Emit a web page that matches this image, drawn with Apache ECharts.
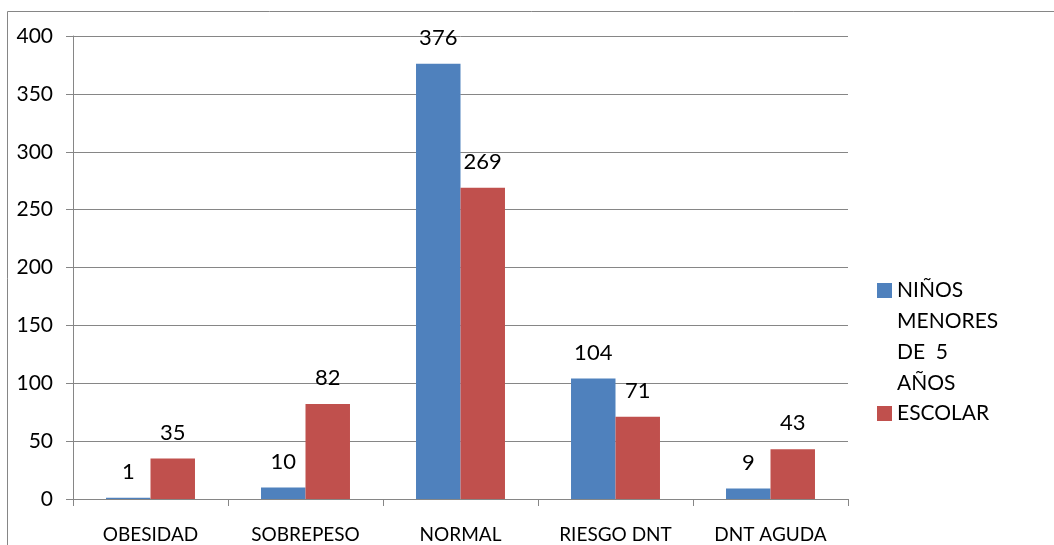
<!DOCTYPE html>
<html>
<head>
<meta charset="utf-8">
<script src="https://cdn.jsdelivr.net/npm/echarts@6/dist/echarts.min.js"></script>
<style>html,body{margin:0;padding:0;background:#fff}#c{width:1054px;height:545px}</style>
</head>
<body>
<div id="c"></div>
<script>
const categories = ['OBESIDAD', 'SOBREPESO', 'NORMAL', 'RIESGO DNT', 'DNT AGUDA'];
const ninos = [1, 10, 376, 104, 9];
const escolar = [35, 82, 269, 71, 43];
const seriesNames = ['NIÑOS\nMENORES\nDE  5\nAÑOS', 'ESCOLAR'];
const yMin = 0, yMax = 400, yStep = 50;

const font = 'Lato, "Open Sans", sans-serif';
const chart = echarts.init(document.getElementById('c'));
chart.setOption({
  animation: false,
  backgroundColor: '#fff',
  graphic: [{
    type: 'rect', silent: true,
    shape: {x: 7.5, y: 11.5, width: 1100, height: 600},
    style: {fill: 'none', stroke: '#868686', lineWidth: 1}
  }],
  grid: {left: 73, right: 206, top: 36, bottom: 46},
  legend: [{
    data: [seriesNames[0]],
    orient: 'vertical', left: 872, top: 177,
    itemWidth: 15, itemHeight: 15,
    icon: 'rect',
    formatter: function (n) { return '\n\n\n' + n; },
    textStyle: {fontFamily: font, fontSize: 21, color: '#000', lineHeight: 31}
  }, {
    data: [seriesNames[1]],
    orient: 'vertical', left: 872, top: 398,
    itemWidth: 15, itemHeight: 15,
    icon: 'rect',
    textStyle: {fontFamily: font, fontSize: 21, color: '#000'}
  }],
  xAxis: {
    type: 'category', data: categories,
    axisLine: {lineStyle: {color: '#868686'}},
    axisTick: {show: true, length: 7, lineStyle: {color: '#868686'}},
    axisLabel: {fontFamily: font, fontSize: 19, color: '#000', margin: 26}
  },
  yAxis: {
    type: 'value', min: yMin, max: yMax, interval: yStep,
    axisLine: {show: true, lineStyle: {color: '#868686'}},
    axisTick: {show: true, length: 7, lineStyle: {color: '#868686'}},
    axisLabel: {fontFamily: font, fontSize: 21, color: '#000', margin: 20},
    splitLine: {lineStyle: {color: '#868686'}}
  },
  series: [{
    name: seriesNames[0], type: 'bar', data: ninos,
    barGap: '0%', barCategoryGap: '42.6%',
    itemStyle: {color: '#4F81BD'},
    label: {show: true, position: 'top', distance: 15, fontFamily: font, fontSize: 22, color: '#000'}
  }, {
    name: seriesNames[1], type: 'bar', data: escolar,
    barGap: '0%', barCategoryGap: '42.6%',
    itemStyle: {color: '#C0504D'},
    label: {show: true, position: 'top', distance: 15, fontFamily: font, fontSize: 22, color: '#000'}
  }]
});
</script>
</body>
</html>
